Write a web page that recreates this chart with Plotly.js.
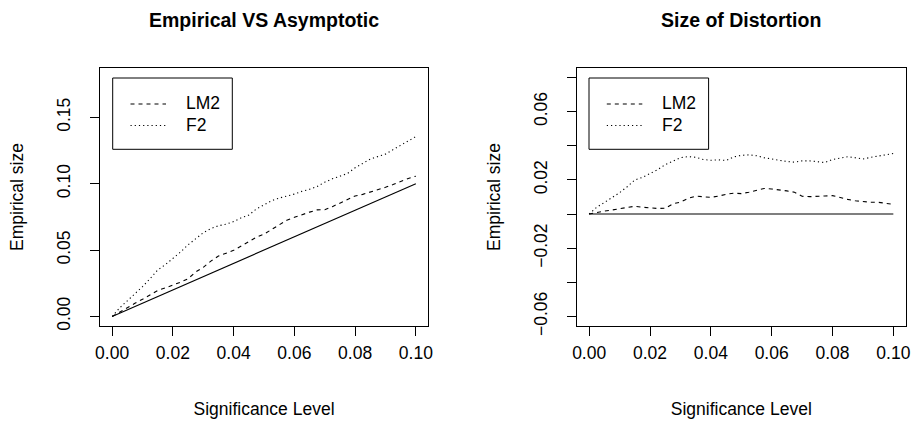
<!DOCTYPE html>
<html>
<head>
<meta charset="utf-8">
<script src="https://cdn.plot.ly/plotly-3.0.1.min.js"></script>
<style>html,body{margin:0;padding:0;background:#fff;}#chart{width:913px;height:423px;}</style>
</head>
<body>
<div id="chart"></div>
<script>
// ---- data ----
const siglevel = [0,0.0025,0.005,0.0075,0.01,0.0125,0.015,0.0175,0.02,0.0225,0.025,0.0275,0.03,0.0325,0.035,0.0375,0.04,0.0425,0.045,0.0475,0.05,0.0525,0.055,0.0575,0.06,0.0625,0.065,0.0675,0.07,0.0725,0.075,0.0775,0.08,0.0825,0.085,0.0875,0.09,0.0925,0.095,0.0975,0.1];

// left panel: empirical size
const sizeLM2 = [0,0.0035,0.0067,0.0099,0.013,0.0163,0.0196,0.0215,0.0235,0.0258,0.0284,0.0335,0.037,0.0417,0.0455,0.0478,0.0498,0.053,0.0566,0.0597,0.062,0.0653,0.0688,0.0725,0.0747,0.0768,0.0786,0.0803,0.0804,0.0827,0.0852,0.0881,0.0908,0.092,0.0936,0.0953,0.0973,0.0994,0.1019,0.1039,0.1057];
const sizeF2 = [0,0.0065,0.0118,0.017,0.0225,0.0285,0.035,0.039,0.0437,0.0485,0.054,0.0585,0.063,0.0662,0.0683,0.0695,0.0715,0.0743,0.0764,0.081,0.0844,0.0872,0.0892,0.0905,0.0922,0.0943,0.0958,0.0979,0.1012,0.1037,0.1056,0.1077,0.112,0.1153,0.1186,0.1205,0.1223,0.1257,0.129,0.132,0.1355];
const asymLevel = [0, 0.1];
const asymSize = [0, 0.1];

// right panel: size distortion
const distLM2 = [0,0.001,0.0017,0.0024,0.003,0.0038,0.0046,0.004,0.0035,0.0033,0.0034,0.006,0.007,0.0092,0.0105,0.0103,0.0098,0.0105,0.0116,0.0122,0.012,0.0128,0.0138,0.015,0.0147,0.0143,0.0136,0.0128,0.0104,0.0102,0.0102,0.0106,0.0108,0.0095,0.0086,0.0078,0.0073,0.0069,0.0069,0.0064,0.0057];
const distF2 = [0,0.004,0.0068,0.0095,0.0125,0.016,0.02,0.0215,0.0237,0.026,0.029,0.031,0.033,0.0337,0.0333,0.032,0.0315,0.0318,0.0314,0.0335,0.0344,0.0347,0.0342,0.033,0.0322,0.0318,0.0308,0.0304,0.0312,0.0312,0.0306,0.0302,0.032,0.0328,0.0336,0.033,0.0323,0.0332,0.034,0.0345,0.0355];
const zeroLevel = [0, 0.1];
const zeroDist = [0, 0];

const xTicks = [0, 0.02, 0.04, 0.06, 0.08, 0.10];
const xTickText = ["0.00", "0.02", "0.04", "0.06", "0.08", "0.10"];
const yTicksL = [0, 0.05, 0.10, 0.15];
const yTickTextL = ["0.00", "0.05", "0.10", "0.15"];
const yTicksR = [-0.06, -0.04, -0.02, 0, 0.02, 0.04, 0.06, 0.08];
const yTickTextR = ["\u22120.06", "", "\u22120.02", "", "0.02", "", "0.06", ""];
const legendNames = ["LM2", "F2"];
const titles = ["Empirical VS Asymptotic", "Size of Distortion"];

// ---- styling ----
const W = 913, H = 423;
const FONT = "Liberation Sans, Arial, Helvetica, sans-serif";
const FS = 17.5;
const px = v => v / W;
const py = v => 1 - v / H;
const DASH = "4px,4px";
const DOT = "1.2px,3px";

const lineTrace = (x, y, xa, ya, dash, name) => ({
  x: x, y: y, xaxis: xa, yaxis: ya, type: "scatter", mode: "lines", name: name,
  line: {color: "#000", width: 1.1, dash: dash}, showlegend: false, hoverinfo: "skip"
});

const data = [
  lineTrace(siglevel, sizeLM2, "x", "y", DASH, legendNames[0]),
  lineTrace(siglevel, sizeF2, "x", "y", DOT, legendNames[1]),
  lineTrace(asymLevel, asymSize, "x", "y", "solid", "Asymptotic"),
  lineTrace(siglevel, distLM2, "x2", "y2", DASH, legendNames[0]),
  lineTrace(siglevel, distF2, "x2", "y2", DOT, legendNames[1]),
  lineTrace(zeroLevel, zeroDist, "x2", "y2", "solid", "Zero")
];

const axisBase = {
  showline: true, mirror: true, linecolor: "#000", linewidth: 1,
  ticks: "outside", ticklen: 9, tickwidth: 1, tickcolor: "#000",
  showgrid: false, zeroline: false,
  tickfont: {family: FONT, size: FS, color: "#000"}
};

const xAxis = (domain, anchor) => Object.assign({}, axisBase, {
  domain: domain, anchor: anchor, range: [-0.004, 0.104],
  tickmode: "array", tickvals: xTicks, ticktext: xTickText,
  ticklabelstandoff: 2,
  title: {text: "Significance Level", font: {family: FONT, size: FS, color: "#000"}, standoff: 40}
});
const yAxis = (domain, anchor, range, tv, tt) => Object.assign({}, axisBase, {
  domain: domain, anchor: anchor, range: range,
  tickmode: "array", tickvals: tv, ticktext: tt, tickangle: -90,
  ticklabelstandoff: 13,
  title: {text: "Empirical size", font: {family: FONT, size: FS, color: "#000"}, standoff: 25}
});

const yDom = [py(326), py(68)];
const layout = {
  width: W, height: H,
  margin: {l: 0, r: 0, t: 0, b: 0},
  paper_bgcolor: "#fff", plot_bgcolor: "#fff",
  showlegend: false,
  font: {family: FONT, color: "#000"},
  xaxis: xAxis([px(100), px(428)], "y"),
  yaxis: yAxis(yDom, "x", [-0.0072, 0.1872], yTicksL, yTickTextL),
  xaxis2: xAxis([px(577), px(905.5)], "y2"),
  yaxis2: yAxis(yDom, "x2", [-0.0656, 0.0856], yTicksR, yTickTextR),
  annotations: [],
  shapes: []
};

// panel titles
[["x domain", titles[0]], ["x2 domain", titles[1]]].forEach(([xr, t]) => {
  layout.annotations.push({
    xref: xr, yref: "paper", x: 0.5, y: py(20), xanchor: "center", yanchor: "middle",
    text: "<b>" + t + "</b>", showarrow: false,
    font: {family: FONT, size: 19.5, color: "#000"}
  });
});

// legends (R style boxes)
[0, 476.3].forEach(off => {
  layout.shapes.push({type: "rect", xref: "paper", yref: "paper",
    x0: px(112.7 + off), x1: px(232.3 + off), y0: py(149.3), y1: py(78),
    line: {color: "#000", width: 1}, fillcolor: "rgba(0,0,0,0)"});
  const rows = [104, 125.5];
  [DASH, DOT].forEach((d, i) => {
    layout.shapes.push({type: "line", xref: "paper", yref: "paper",
      x0: px(130.5 + off), x1: px(166 + off), y0: py(rows[i]), y1: py(rows[i]),
      line: {color: "#000", width: 1.1, dash: d}});
    layout.annotations.push({xref: "paper", yref: "paper",
      x: px(183.5 + off), y: py(rows[i] - 0.5), xanchor: "left", yanchor: "middle",
      text: legendNames[i], showarrow: false,
      font: {family: FONT, size: FS, color: "#000"}});
  });
});

Plotly.newPlot("chart", data, layout, {staticPlot: true, displayModeBar: false});
</script>
</body>
</html>
